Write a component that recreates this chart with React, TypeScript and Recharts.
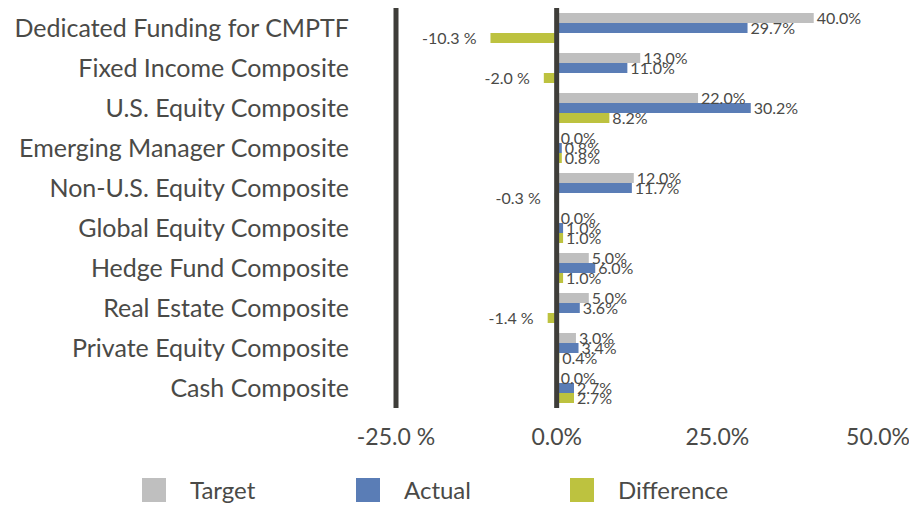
import React from 'react';
import { BarChart, Bar, XAxis, YAxis, ReferenceLine, Legend, LabelList } from 'recharts';

const categories = [
  'Dedicated Funding for CMPTF',
  'Fixed Income Composite',
  'U.S. Equity Composite',
  'Emerging Manager Composite',
  'Non-U.S. Equity Composite',
  'Global Equity Composite',
  'Hedge Fund Composite',
  'Real Estate Composite',
  'Private Equity Composite',
  'Cash Composite',
];
const target = [40.0, 13.0, 22.0, 0.0, 12.0, 0.0, 5.0, 5.0, 3.0, 0.0];
const actual = [29.7, 11.0, 30.2, 0.8, 11.7, 1.0, 6.0, 3.6, 3.4, 2.7];
const difference = [-10.3, -2.0, 8.2, 0.8, -0.3, 1.0, 1.0, -1.4, 0.4, 2.7];
const xTicks = [-25, 0, 25, 50];

const seriesNames = ['Target', 'Actual', 'Difference'];
const seriesKeys = ['target', 'actual', 'difference'];
const seriesColors = ['#bfbfbf', '#5a7db6', '#bdc23f'];

const data = categories.map((name, i) => ({
  name,
  target: target[i],
  actual: actual[i],
  difference: difference[i],
}));

const FONT = 'Lato, "Noto Sans", sans-serif';
const TEXT = '#4a4a47';
const AXIS = '#3e3d39';

const fmt = (v: number) => (v < 0 ? `${v.toFixed(1)} %` : `${v.toFixed(1)}%`);

const BarLabel = (props: any) => {
  const { x, y, width, height, value } = props;
  const v = Number(value);
  const left = Math.min(x, x + width);
  const right = Math.max(x, x + width);
  const cy = y + height / 2;
  if (v < 0) {
    return (
      <text x={left - 14} y={cy} dy={5.5} textAnchor="end" fontSize={16} fill={TEXT} fontFamily={FONT}>
        {fmt(v)}
      </text>
    );
  }
  return (
    <text x={right + 3} y={cy} dy={5.5} textAnchor="start" fontSize={16} fill={TEXT} fontFamily={FONT}>
      {fmt(v)}
    </text>
  );
};

const YTick = (props: any) => {
  const { y, payload } = props;
  return (
    <text x={349} y={y} dy={8.5} textAnchor="end" fontSize={25} fill={TEXT} fontFamily={FONT}>
      {payload.value}
    </text>
  );
};

const XTick = (props: any) => {
  const { x, y, payload } = props;
  return (
    <text x={x} y={y} dy={37} textAnchor="middle" fontSize={23} fill={TEXT} fontFamily={FONT}>
      {fmt(payload.value)}
    </text>
  );
};

const LegendContent = () => (
  <div style={{ height: 49, position: 'relative', fontFamily: FONT }}>
    {seriesNames.map((n, i) => (
      <div
        key={n}
        style={{
          position: 'absolute',
          left: 142 + i * 214,
          top: 20,
          display: 'flex',
          alignItems: 'center',
          height: 24,
        }}
      >
        <div style={{ width: 24, height: 24, background: seriesColors[i] }} />
        <span style={{ marginLeft: 24, fontSize: 24, color: TEXT, lineHeight: '24px' }}>{n}</span>
      </div>
    ))}
  </div>
);

export default function App() {
  return (
    <div style={{ position: 'absolute', left: 0, top: 0, width: 909, height: 507, background: '#fff' }}>
      <BarChart
        width={909}
        height={507}
        data={data}
        layout="vertical"
        margin={{ top: 8, right: 31, left: 0, bottom: 0 }}
        barSize={10}
        barGap={0}
      >
        <XAxis
          type="number"
          domain={[-25, 50]}
          ticks={xTicks}
          axisLine={false}
          tickLine={false}
          tickSize={0}
          tickMargin={0}
          height={50}
          tick={<XTick />}
          interval={0}
        />
        <YAxis
          type="category"
          dataKey="name"
          width={396}
          axisLine={{ stroke: AXIS, strokeWidth: 5 }}
          tickLine={false}
          tick={<YTick />}
          interval={0}
        />
        <Legend verticalAlign="bottom" content={<LegendContent />} />
        <ReferenceLine x={0} stroke={AXIS} strokeWidth={5} />
        {seriesKeys.map((k, i) => (
          <Bar
            key={k}
            dataKey={k}
            name={seriesNames[i]}
            fill={seriesColors[i]}
            minPointSize={1}
            isAnimationActive={false}
          >
            <LabelList dataKey={k} content={<BarLabel />} />
          </Bar>
        ))}
      </BarChart>
    </div>
  );
}
